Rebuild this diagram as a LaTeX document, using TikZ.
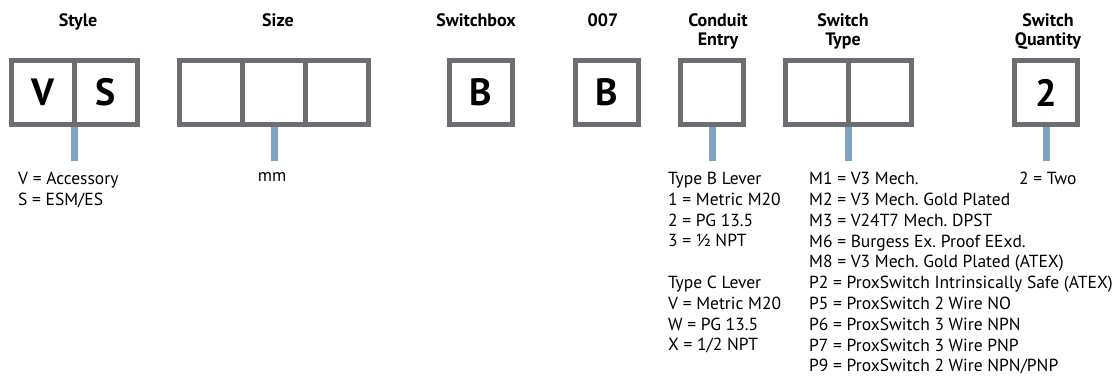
\documentclass[tikz,border=0pt]{standalone}
\usepackage{fontspec}
\setmainfont{PT Sans}
\usepackage{tikz}
\usetikzlibrary{positioning}
\definecolor{codeGray}{HTML}{6D6E71}
\definecolor{stemBlue}{HTML}{7FA3C4}
\frenchspacing

\begin{document}
\begin{tikzpicture}[
  x=1pt, y=1pt,
  cell/.style={draw=codeGray, line width=5pt, minimum width=63pt, minimum height=64pt, inner sep=0pt, outer sep=0pt, font=\fontsize{38}{38}\selectfont\bfseries},
  head/.style={anchor=north, align=center, font=\fontsize{18}{19}\selectfont\bfseries, inner sep=0pt},
  key/.style={anchor=north west, align=left, font=\fontsize{17.5}{20.8}\selectfont, inner xsep=0pt, inner ysep=11pt},
  stem/.style={stemBlue, line width=7pt, shorten <=2.5pt},
  node distance=0pt,
]
  \useasboundingbox (0,0) rectangle (1120,-380);
  % code boxes
  \node[cell] (v) at (43,-92.5) {V};
  \node[cell, right=of v] (s) {S};
  \node[cell] (sz1) at (211,-92.5) {};
  \node[cell, right=of sz1] (sz2) {};
  \node[cell, right=of sz2] (sz3) {};
  \node[cell] (sbx) at (481,-92.5) {B};
  \node[cell] (ser) at (607,-92.5) {B};
  \node[cell] (ent) at (712,-92.5) {};
  \node[cell] (ty1) at (817,-92.5) {};
  \node[cell, right=of ty1] (ty2) {};
  \node[cell] (qty) at (1046,-92.5) {2};
  % headings
  \node[head] (hStyle) at (78,-13) {Style};
  \node[head] (hSize) at (278,-13) {Size};
  \node[head] (hBox) at (476,-13) {Switchbox};
  \node[head] (hSer) at (603,-13) {007};
  \node[head] (hEnt) at (718,-13) {Conduit\\Entry};
  \node[head] (hType) at (843,-13) {Switch\\Type};
  \node[head] (hQty) at (1048,-13) {Switch\\Quantity};
  % keys
  \node[key] (kStyle) at (18,-161) {V = Accessory\\S = ESM/ES};
  \node[key, anchor=north] (kSize) at (272,-161) {mm};
  \node[key] (kEnt) at (668,-161) {Type B Lever\\1 = Metric M20\\2 = PG 13.5\\3 = ½ NPT\\[20.8pt]Type C Lever\\V = Metric M20\\W = PG 13.5\\X = 1/2 NPT};
  \node[key] (kType) at (809,-161) {M1 = V3 Mech.\\M2 = V3 Mech. Gold Plated\\M3 = V24T7 Mech. DPST\\M6 = Burgess Ex. Proof EExd.\\M8 = V3 Mech. Gold Plated (ATEX)\\P2 = ProxSwitch Intrinsically Safe (ATEX)\\P5 = ProxSwitch 2 Wire NO\\P6 = ProxSwitch 3 Wire NPN\\P7 = ProxSwitch 3 Wire PNP\\P9 = ProxSwitch 2 Wire NPN/PNP};
  \node[key] (kQty) at (1019,-161) {2 = Two};
  % stems
  \draw[stem] (v.south east) -- (v.south east |- kStyle.north);
  \draw[stem] (sz2.south) -- (sz2.south |- kSize.north);
  \draw[stem] (ent.south) -- (ent.south |- kEnt.north);
  \draw[stem] (ty1.south east) -- (ty1.south east |- kType.north);
  \draw[stem] (qty.south) -- (qty.south |- kQty.north);
\end{tikzpicture}
\end{document}
